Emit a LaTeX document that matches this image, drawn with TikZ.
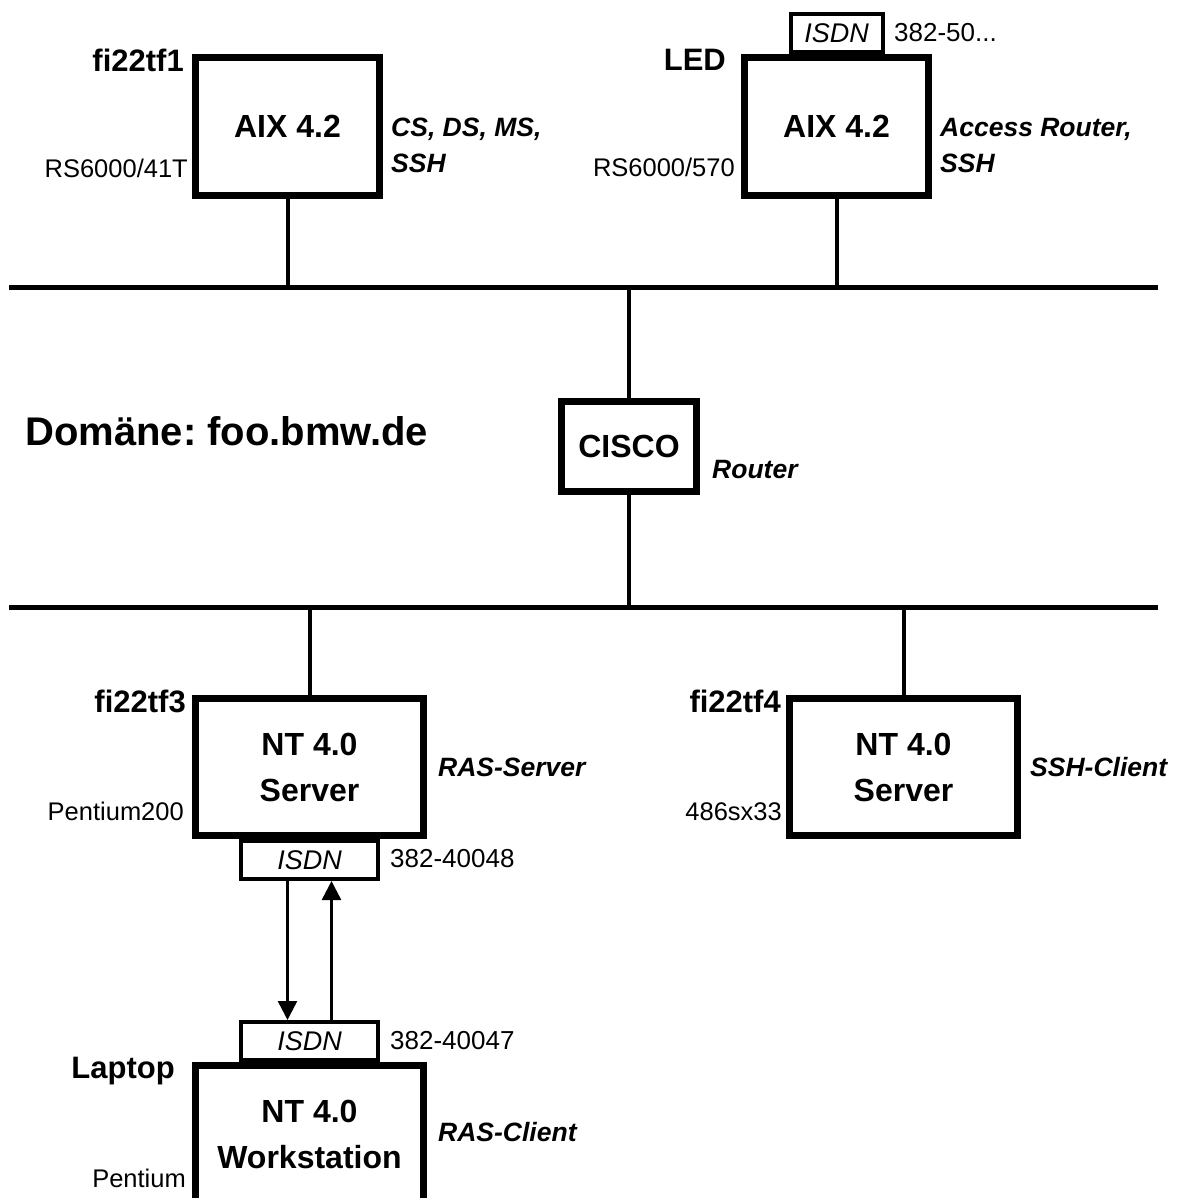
\documentclass[tikz,border=0pt]{standalone}
\usepackage{fontspec}
\setmainfont{Liberation Sans}
\usetikzlibrary{arrows.meta, positioning}
\frenchspacing

\newcommand\boxfont{\fontsize{32}{46}\selectfont\bfseries}
\newcommand\hostfont{\fontsize{31}{36}\selectfont\bfseries}
\newcommand\rolefont{\fontsize{26.5}{36}\selectfont\bfseries\itshape}
\newcommand\modelfont{\fontsize{25.5}{30}\selectfont}
\newcommand\numfont{\fontsize{26}{30}\selectfont}
\newcommand\isdnfont{\fontsize{27}{30}\selectfont\itshape}
\newcommand\domainfont{\fontsize{40}{48}\selectfont\bfseries}

\begin{document}
\begin{tikzpicture}[
  x=1pt, y=-1pt,
  box/.style   = {draw, line width=7pt, minimum width=228pt, minimum height=137pt,
                  align=center, font=\boxfont},
  aix/.style   = {box, minimum width=184pt, minimum height=138pt},
  isdn/.style  = {draw, line width=4pt, minimum width=137pt, minimum height=38pt,
                  inner sep=0pt, font=\isdnfont},
  host/.style  = {anchor=base east, inner sep=0pt, font=\hostfont},
  model/.style = {anchor=base east, inner sep=0pt, font=\modelfont},
  role/.style  = {anchor=base west, inner sep=0pt, align=left, font=\rolefont},
  num/.style   = {anchor=base west, inner sep=0pt, font=\numfont},
  bus/.style   = {line width=5pt},
  drop/.style  = {line width=4pt},
  arr/.style   = {-{Triangle[length=19pt, width=19pt]}, line width=2.5pt}
]
  \fill[white] (0,0) rectangle (1182,1198);
  \useasboundingbox (0,0) rectangle (1182,1198);

  % the two segments
  \coordinate (bus1w) at (9,287);
  \coordinate (bus1e) at (1158,287);
  \coordinate (bus2w) at (9,607);
  \coordinate (bus2e) at (1158,607);

  % machines
  \node[aix] (tf1) at (287.5,126.5) {AIX 4.2};
  \node[aix] (led) at (836.5,126.5) {AIX 4.2};
  \node[box, minimum width=135pt, minimum height=90pt] (cisco) at (629,446.5) {CISCO};
  \node[box] (tf3) at (309.5,767) {NT 4.0\\Server};
  \node[box] (tf4) at (903.5,767) {NT 4.0\\Server};
  \node[box] (lap) at (309.5,1134) {NT 4.0\\Workstation};

  % isdn cards
  \node[isdn, minimum width=92pt, anchor=south] (isdnled) at (led.north) {ISDN};
  \node[isdn, below=0pt of tf3] (isdntf3) {ISDN};
  \node[isdn, above=0pt of lap] (isdnlap) {ISDN};

  % labels
  \node[host] (tf1name) at (184,72) {fi22tf1};
  \node[model] (tf1model) at (188,178) {RS6000/41T};
  \node[role, anchor=west] (tf1role) at (391,145.5) {CS, DS, MS,\\SSH};
  \node[host] (ledname) at (726,71) {LED};
  \node[model] (ledmodel) at (735,177) {RS6000/570};
  \node[role, anchor=west] (ledrole) at (940,145.5) {Access Router,\\SSH};
  \node[num] (lednum) at (894,42) {382-50...};
  \node[role] (ciscorole) at (712,478) {Router};
  \node[anchor=base west, inner sep=0pt, font=\domainfont] (domain) at (25,445) {Domäne: foo.bmw.de};

  \node[host] (tf3name) at (186,712) {fi22tf3};
  \node[model] (tf3model) at (184,820) {Pentium200};
  \node[role] (tf3role) at (438,776) {RAS-Server};
  \node[num] (tf3num) at (390,867) {382-40048};

  \node[host] (tf4name) at (781,712) {fi22tf4};
  \node[model] (tf4model) at (782,820) {486sx33};
  \node[role] (tf4role) at (1030,776) {SSH-Client};

  \node[host] (lapname) at (175,1078) {Laptop};
  \node[num] (lapnum) at (390,1049) {382-40047};
  \node[role] (laprole) at (438,1141) {RAS-Client};
  \node[model] (lapmodel) at (186,1187) {Pentium};

  % wiring
  \draw[bus] (bus1w) -- (bus1e);
  \draw[bus] (bus2w) -- (bus2e);
  \draw[drop] (tf1.south) -- (tf1.south |- bus1w);
  \draw[drop] (led.south) -- (led.south |- bus1w);
  \draw[drop] (bus1w -| cisco.north) -- (cisco.north);
  \draw[drop] (cisco.south) -- (cisco.south |- bus2w);
  \draw[drop] (bus2w -| tf3.north) -- (tf3.north);
  \draw[drop] (bus2w -| tf4.north) -- (tf4.north);

  % dial-up link
  \draw[arr] ([xshift=-22pt]isdntf3.south) -- ([xshift=-22pt]isdnlap.north);
  \draw[arr] ([xshift=22pt]isdnlap.north) -- ([xshift=22pt]isdntf3.south);
\end{tikzpicture}
\end{document}
